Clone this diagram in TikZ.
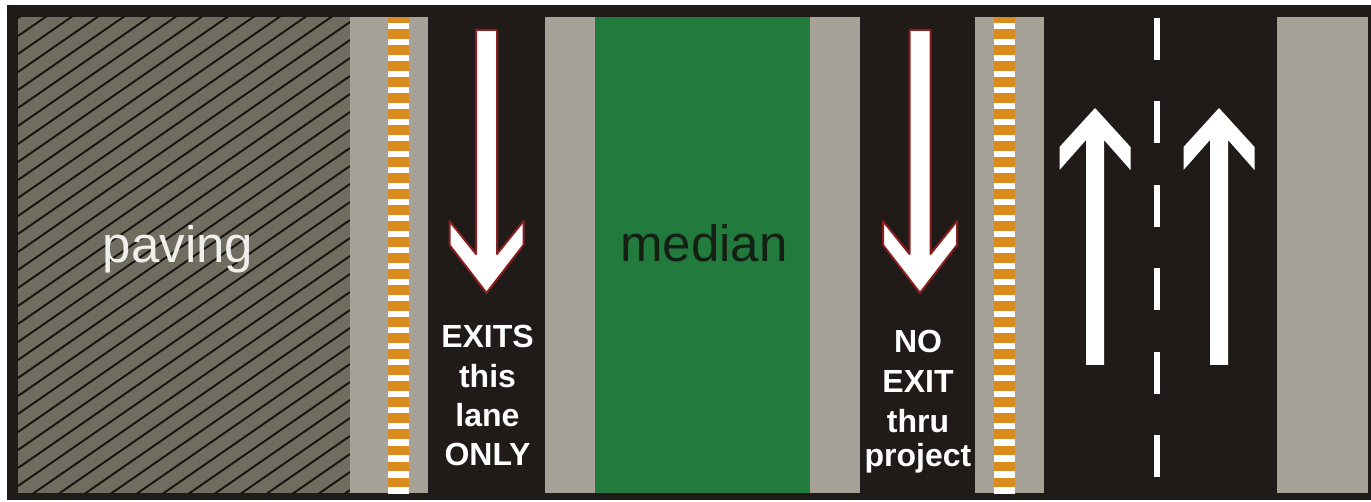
\documentclass[tikz,border=0pt]{standalone}
\usepackage{fontspec}
\setmainfont{Liberation Sans}
\usepackage{tikz}
\definecolor{asphalt}{HTML}{201b19}
\definecolor{shoulder}{HTML}{a7a297}
\definecolor{pavefill}{HTML}{716c60}
\definecolor{paveline}{HTML}{14150e}
\definecolor{mediangreen}{HTML}{227a3d}
\definecolor{mediantext}{HTML}{142014}
\definecolor{rumble}{HTML}{d98b1e}
\definecolor{arrowedge}{HTML}{8a1d1f}
\definecolor{papertext}{HTML}{efefec}

\begin{document}
\begin{tikzpicture}[x=1pt,y=-1pt,
  strip/.style={fill=shoulder},
  rumblebar/.style={fill=white},
  exitarrow/.style={fill=white,draw=arrowedge,line width=2pt,line join=round},
  thruarrow/.style={fill=white},
  lanetext/.style={text=white,font=\bfseries\fontsize{32}{32}\selectfont,inner sep=0pt,anchor=base},
  zonetext/.style={font=\fontsize{51}{51}\selectfont,inner sep=0pt,anchor=base}]
  \useasboundingbox (0,0) rectangle (1371,502);
  % road surface and frame
  \fill[asphalt] (7,5) rectangle (1371,500);
  % hatched paving
  \fill[pavefill] (18,17) rectangle (350,493);
  \begin{scope}
    \clip (18,17) rectangle (350,493);
    \foreach \c in {0,18,...,756}{\draw[paveline,line width=1.9pt] (18,\c) -- (350,\c-230);}
  \end{scope}
  % shoulders and median
  \foreach \xa/\xb in {350/428,545/595,810/860,975/1044,1277/1368}{\fill[strip] (\xa,17) rectangle (\xb,493);}
  \fill[mediangreen] (595,17) rectangle (810,493);
  % rumble strips
  \foreach \xa in {388,994}{
    \fill[rumble] (\xa,17) rectangle (\xa+21,493);
    \foreach \k in {0,...,29}{\fill[rumblebar] (\xa,23+16*\k) rectangle (\xa+21,29.5+16*\k);}
  }
  % lane dividing line
  \draw[white,line width=6pt,dash pattern=on 42pt off 41.4pt] (1156.5,18) -- (1156.5,493);
  % exit-lane arrows
  \foreach \cx in {486.5,920}{
    \filldraw[exitarrow] (\cx-10.5,30) -- (\cx+10.5,30) -- (\cx+10.5,254) -- (\cx+37,221) -- (\cx+37,245)
      -- (\cx,293) -- (\cx-37,245) -- (\cx-37,221) -- (\cx-10.5,254) -- cycle;}
  % through-lane arrows
  \foreach \cx in {1095,1219}{
    \fill[thruarrow] (\cx,108) -- (\cx+35.5,147) -- (\cx+35.5,170) -- (\cx+9,140) -- (\cx+9,365)
      -- (\cx-9,365) -- (\cx-9,140) -- (\cx-35.5,170) -- (\cx-35.5,147) -- cycle;}
  % labels
  \node[zonetext,text=papertext] (paving) at (178,263) {paving};
  \node[zonetext,text=mediantext] (median) at (704,262) {median};
  \foreach \t/\yb [count=\i] in {EXITS/348,this/388,lane/427,ONLY/465}{\node[lanetext] (exits\i) at (487.5,\yb) {\t};}
  \foreach \t/\yb [count=\i] in {NO/353,EXIT/393,thru/432,project/466}{\node[lanetext] (noexit\i) at (918,\yb) {\t};}
\end{tikzpicture}
\end{document}
